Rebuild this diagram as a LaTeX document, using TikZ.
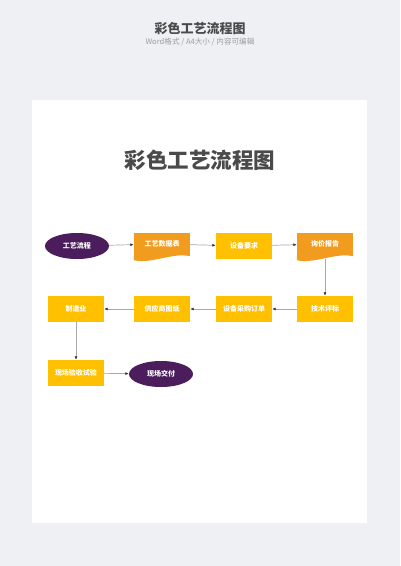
\documentclass[tikz,border=0pt]{standalone}
\usepackage{fontspec}
\setmainfont{Noto Sans CJK SC}
\usetikzlibrary{shapes.geometric,arrows.meta}

\definecolor{bggray}{HTML}{EEF0F4}
\definecolor{titlegray}{HTML}{4A4A4A}
\definecolor{subgray}{HTML}{9A9CA0}
\definecolor{docorange}{HTML}{F29C1F}
\definecolor{boxyellow}{HTML}{FFC000}
\definecolor{ovalpurple}{HTML}{4B1D5C}
\definecolor{linegray}{HTML}{A8A8A8}

\tikzset{
  oval/.style={ellipse, fill=ovalpurple, minimum width=64, minimum height=26},
  plainbox/.style={rectangle, fill=boxyellow, minimum width=56, minimum height=26},
  docbox/.style={rectangle, fill=docorange, minimum width=56, minimum height=22},
}

% wavy lower edge of a document box
\newcommand\docwave[1]{%
  \fill[docorange] (#1.south west) -- (#1.south east) -- ++(0,1)
    .. controls +(-18,-4) and +(18,4) .. ([yshift=-5pt]#1.south west) -- cycle;}

\begin{document}
\begin{tikzpicture}[x=1pt,y=-1pt]

      \useasboundingbox[fill=bggray] (0,0) rectangle (400,566);
      \fill[white] (32,100) rectangle (367,523);

      \node[font=\fontsize{13}{15}\selectfont\bfseries, text=titlegray] (head) at (200,28) {彩色工艺流程图};
      \node[font=\fontsize{7.6}{9}\selectfont, text=subgray] (sub) at (200,42) {Word格式 / A4大小 / 内容可编辑};
      \node[font=\fontsize{21.5}{25}\selectfont\bfseries, text=titlegray] (title) at (200,160) {彩色工艺流程图};

      \begin{scope}[every node/.style={text=white, inner sep=1pt, font=\fontsize{7}{8}\selectfont\bfseries}]
        \node[oval]     (flow)    at (77,246)  {工艺流程};
        \node[docbox]   (data)    at (162,244) {工艺数据表};
        \node[plainbox] (req)     at (244,246) {设备要求};
        \node[docbox]   (quote)   at (325,244) {询价报告};
        \node[plainbox] (bid)     at (325,309) {技术评标};
        \node[plainbox] (order)   at (244,309) {设备采购订单};
        \node[plainbox] (drawing) at (162,309) {供应商图纸};
        \node[plainbox] (mfg)     at (76,309)  {制造业};
        \node[plainbox] (sat)     at (76,373)  {现场验收试验};
        \node[oval]     (deliver) at (161,374) {现场交付};
      \end{scope}

      \docwave{data}
      \docwave{quote}

      \begin{scope}[every edge/.style={draw=linegray, line width=0.7pt, -{Latex[length=3.5pt,width=3pt,color=black!80]}}]
        \path (flow)    edge (data);
        \path (data)    edge (req);
        \path (req)     edge (quote);
        \path (quote)   edge[shorten <=4pt] (bid);
        \path (bid)     edge (order);
        \path (order)   edge (drawing);
        \path (drawing) edge (mfg);
        \path (mfg)     edge (sat);
        \path (sat)     edge (deliver);
      \end{scope}

    \end{tikzpicture}
\end{document}
